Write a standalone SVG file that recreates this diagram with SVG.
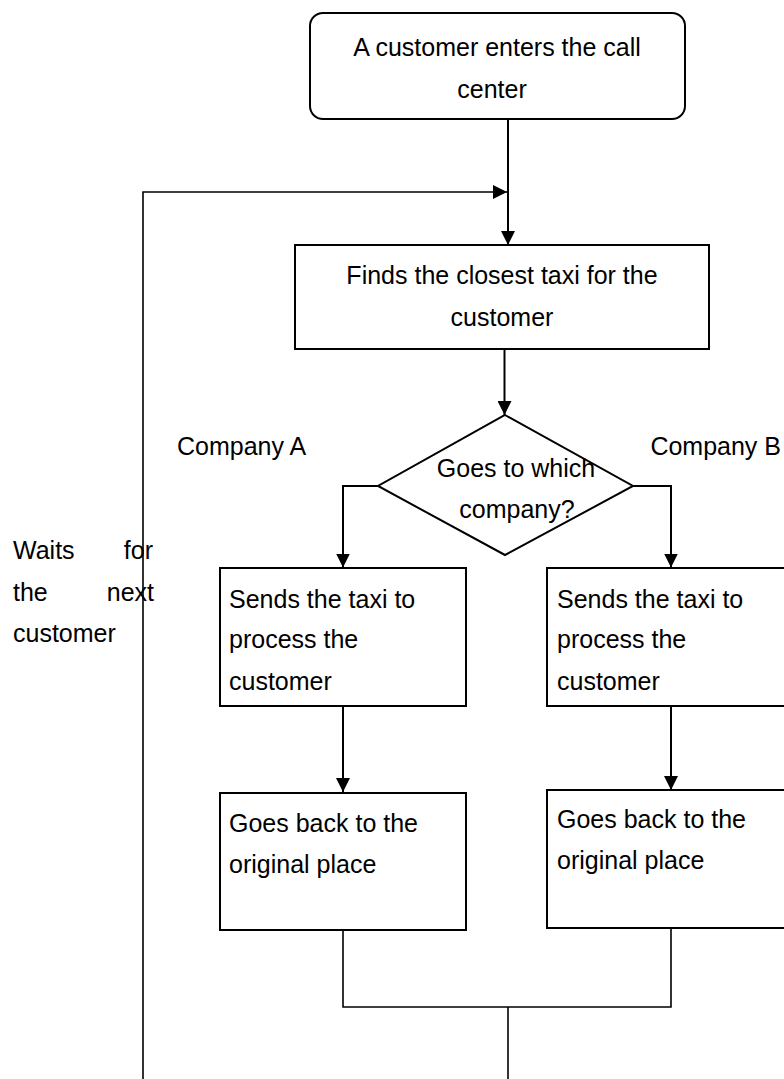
<svg xmlns="http://www.w3.org/2000/svg" width="784" height="1079" viewBox="0 0 784 1079">
<style>
.box{fill:#fff;stroke:#000;stroke-width:2}
.t{font-family:"Liberation Sans",Arial,sans-serif;font-size:25px;fill:#000}
.c{text-anchor:middle}
.e{text-anchor:end}
.ln{fill:none;stroke:#000;stroke-width:2}
.thin{fill:none;stroke:#000;stroke-width:1.6}
</style>
<defs>
<marker id="arr" viewBox="0 0 10 10" refX="10" refY="5" markerWidth="14" markerHeight="14" markerUnits="userSpaceOnUse" orient="auto">
<path d="M0,0 L10,5 L0,10 z" fill="#000"/>
</marker>
</defs>
<g id="connectors">
<path class="ln" d="M508,119 V245" marker-end="url(#arr)"/>
<path class="thin" d="M143,1079 V192 H507" marker-end="url(#arr)"/>
<path class="ln" d="M504.5,349 V415" marker-end="url(#arr)"/>
<path class="ln" d="M378,486 H343 V567.5" marker-end="url(#arr)"/>
<path class="ln" d="M633,486 H671 V567.5" marker-end="url(#arr)"/>
<path class="ln" d="M343,706 V792" marker-end="url(#arr)"/>
<path class="ln" d="M671,706 V790" marker-end="url(#arr)"/>
<path class="thin" d="M343,931 V1007 H671 V929"/>
<path class="thin" d="M508,1007 V1079"/>
</g>
<g id="start">
<rect class="box" x="310" y="13" width="375" height="106" rx="13"/>
<text class="t c" x="497" y="56">A customer enters the call</text>
<text class="t c" x="492" y="98">center</text>
</g>
<g id="find">
<rect class="box" x="295" y="245" width="414" height="104"/>
<text class="t c" x="502" y="284">Finds the closest taxi for the</text>
<text class="t c" x="502" y="326">customer</text>
</g>
<g id="decision">
<polygon class="box" points="505,415 633,486 505,555 378,486"/>
<text class="t c" x="516" y="477">Goes to which</text>
<text class="t c" x="517" y="518">company?</text>
</g>
<g id="labelA">
<text class="t" x="177" y="455">Company A</text>
</g>
<g id="labelB">
<text class="t e" x="781" y="455">Company B</text>
</g>
<g id="waits">
<text class="t" x="13" y="559">Waits</text>
<text class="t e" x="153" y="559">for</text>
<text class="t" x="13" y="601">the</text>
<text class="t e" x="154" y="601">next</text>
<text class="t" x="13" y="642">customer</text>
</g>
<g id="sendA">
<rect class="box" x="220" y="568" width="246" height="138"/>
<text class="t" x="229" y="608">Sends the taxi to</text>
<text class="t" x="229" y="648">process the</text>
<text class="t" x="229" y="690">customer</text>
</g>
<g id="sendB">
<rect class="box" x="547" y="568" width="250" height="138"/>
<text class="t" x="557" y="608">Sends the taxi to</text>
<text class="t" x="557" y="648">process the</text>
<text class="t" x="557" y="690">customer</text>
</g>
<g id="backA">
<rect class="box" x="220" y="793" width="246" height="137"/>
<text class="t" x="229" y="832">Goes back to the</text>
<text class="t" x="229" y="873">original place</text>
</g>
<g id="backB">
<rect class="box" x="547" y="790" width="250" height="138"/>
<text class="t" x="557" y="828">Goes back to the</text>
<text class="t" x="557" y="869">original place</text>
</g>
</svg>
